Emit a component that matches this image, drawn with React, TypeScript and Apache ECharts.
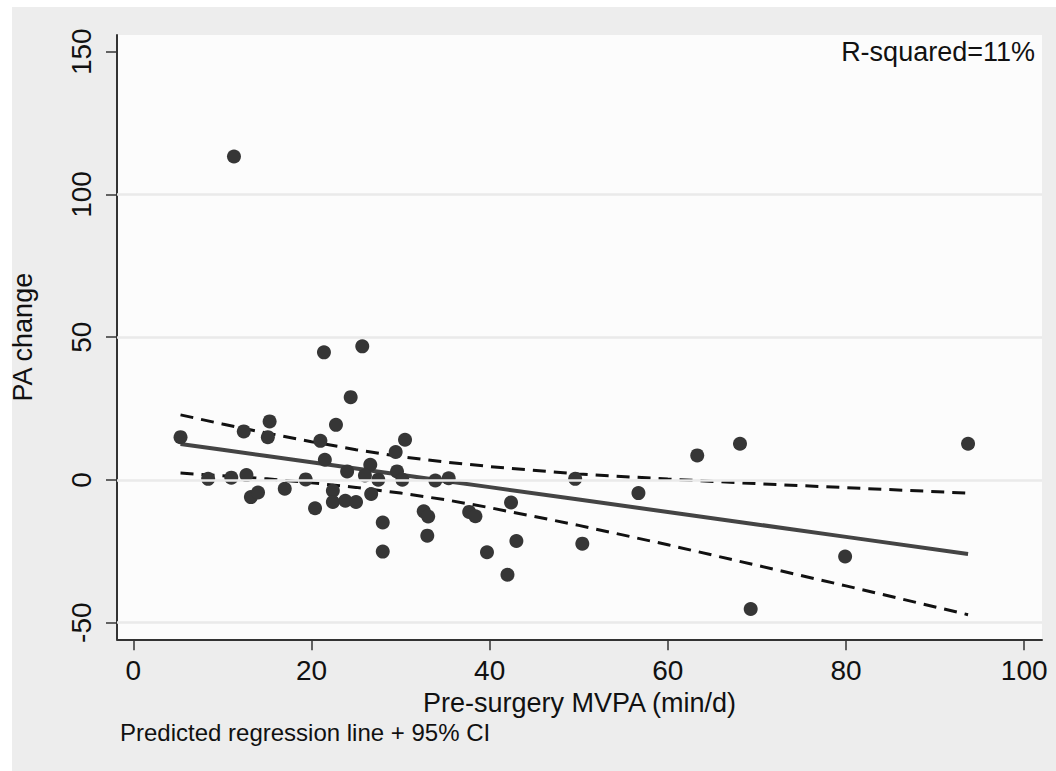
import React, { useEffect, useRef } from "react";
import * as echarts from "echarts";

// Tick labels
const xTicks = [0, 20, 40, 60, 80, 100];
const yTicks = [-50, 0, 50, 100, 150];
const yGridLines = [-50, 0, 50, 100];

// Scatter data: pre-surgery MVPA (min/d) vs PA change
const mvpa = [
  5.3, 21.4, 25.7, 24.4, 15.3, 12.4, 15.1, 22.75, 21.0, 30.5, 21.5, 29.45, 26.6, 24.0, 26.0, 29.6, 27.5,
  30.2, 33.9, 35.4, 8.4, 11.0, 12.7, 19.35, 13.2, 14.0, 17.0, 20.4, 22.4, 22.4, 23.8, 25.0, 26.7, 28.0,
  28.0, 32.6, 33.1, 33.0, 11.3, 37.7, 38.4, 42.4, 39.7, 43.0, 42.0, 49.6, 50.4, 56.7, 63.3, 68.1, 93.7,
  79.9, 69.3,
];
const paChange = [
  15.0, 44.7, 46.8, 29.0, 20.5, 17.0, 15.0, 19.3, 13.7, 14.1, 7.1, 9.8, 5.3, 3.0, 1.6, 3.0, 0.1, 0.1,
  -0.2, 0.6, 0.4, 0.8, 1.7, 0.2, -6.0, -4.4, -3.1, -9.9, -3.8, -7.7, -7.3, -7.7, -4.9, -14.9, -25.1,
  -11.0, -12.8, -19.5, 113.3, -11.2, -12.7, -7.9, -25.3, -21.4, -33.2, 0.4, -22.3, -4.6, 8.6, 12.7, 12.7,
  -26.8, -45.2,
];

// Predicted regression line and 95% CI
const fitX = [5.3, 10, 15, 20, 25, 30, 35, 40, 50, 60, 70, 80, 93.7];
const fitY = [12.6, 10.55, 8.38, 6.2, 4.02, 1.84, -0.33, -2.51, -6.86, -11.22, -15.57, -19.93, -25.9];
const ciUpper = [22.8, 19.6, 16.4, 13.4, 10.6, 8.2, 6.3, 4.7, 2.1, 0.3, -1.3, -2.7, -4.6];
const ciLower = [2.4, 1.5, 0.4, -1.0, -2.6, -4.6, -6.9, -9.7, -15.9, -22.7, -29.9, -37.1, -47.2];

const FONT = "'Liberation Sans', Arial, Helvetica, sans-serif";

export default function App() {
  const ref = useRef<HTMLDivElement>(null);

  useEffect(() => {
    if (!ref.current) return;
    const chart = echarts.init(ref.current, undefined, { renderer: "svg" });
    const pts = mvpa.map((x, i) => [x, paChange[i]]);
    const fit = fitX.map((x, i) => [x, fitY[i]]);
    const up = fitX.map((x, i) => [x, ciUpper[i]]);
    const lo = fitX.map((x, i) => [x, ciLower[i]]);

    chart.setOption({
      animation: false,
      backgroundColor: "#FFFFFF",
      grid: {
        left: 117,
        top: 35,
        right: 14,
        bottom: 131.7,
        show: true,
        backgroundColor: "#FCFCFC",
        borderWidth: 0,
        containLabel: false,
        outerBoundsMode: "none",
      },
      xAxis: {
        type: "value",
        min: -1.83,
        max: 102.0,
        name: "Pre-surgery MVPA (min/d)",
        nameLocation: "middle",
        nameGap: 37,
        nameTextStyle: { fontFamily: FONT, fontSize: 27, color: "#111" },
        axisLine: { show: true, onZero: false, lineStyle: { color: "#333", width: 2 } },
        axisTick: { show: true, length: 11, customValues: xTicks, lineStyle: { color: "#333", width: 1.5 } },
        axisLabel: {
          customValues: xTicks,
          margin: 17,
          fontFamily: FONT,
          fontSize: 28,
          color: "#111",
        },
        splitLine: { show: false },
      },
      yAxis: {
        type: "value",
        min: -55.81,
        max: 155.85,
        name: "PA change",
        nameLocation: "middle",
        nameGap: 81,
        nameRotate: 90,
        nameTextStyle: { fontFamily: FONT, fontSize: 27, color: "#111" },
        axisLine: { show: true, onZero: false, lineStyle: { color: "#333", width: 2 } },
        axisTick: { show: true, length: 11, customValues: yTicks, lineStyle: { color: "#333", width: 1.5 } },
        axisLabel: {
          customValues: yTicks,
          rotate: 90,
          margin: 22,
          fontFamily: FONT,
          fontSize: 28,
          color: "#111",
        },
        splitLine: { show: false },
      },
      graphic: [
        {
          type: "rect",
          z: -10,
          silent: true,
          shape: { x: 12, y: 7, width: 1056 - 12, height: 771 - 7 },
          style: { fill: "#EDEDED" },
        },
        {
          type: "text",
          x: 1035,
          y: 38,
          style: {
            text: "R-squared=11%",
            align: "right",
            verticalAlign: "top",
            fontFamily: FONT,
            fontSize: 27,
            fill: "#111",
          },
        },
        {
          type: "text",
          x: 120,
          y: 720,
          style: {
            text: "Predicted regression line + 95% CI",
            align: "left",
            verticalAlign: "top",
            fontFamily: FONT,
            fontSize: 24,
            fill: "#111",
          },
        },
      ],
      series: [
        {
          type: "line",
          data: [],
          z: 1,
          silent: true,
          markLine: {
            silent: true,
            symbol: "none",
            label: { show: false },
            lineStyle: { color: "#EAEAEA", width: 2.5, type: "solid" },
            data: yGridLines.map((v) => ({ yAxis: v })),
          },
        },
        {
          type: "line",
          data: up,
          symbol: "none",
          z: 2,
          lineStyle: { color: "#111", width: 3, type: [13, 8] },
        },
        {
          type: "line",
          data: lo,
          symbol: "none",
          z: 2,
          lineStyle: { color: "#111", width: 3, type: [13, 8] },
        },
        {
          type: "line",
          data: fit,
          symbol: "none",
          z: 3,
          lineStyle: { color: "#444", width: 4 },
        },
        {
          type: "scatter",
          data: pts,
          symbol: "circle",
          symbolSize: 14,
          z: 4,
          itemStyle: { color: "#363636", opacity: 1 },
        },
      ],
    });
    return () => chart.dispose();
  }, []);

  return (
    <div
      ref={ref}
      style={{ position: "absolute", left: 0, top: 0, width: 1056, height: 771 }}
    />
  );
}
